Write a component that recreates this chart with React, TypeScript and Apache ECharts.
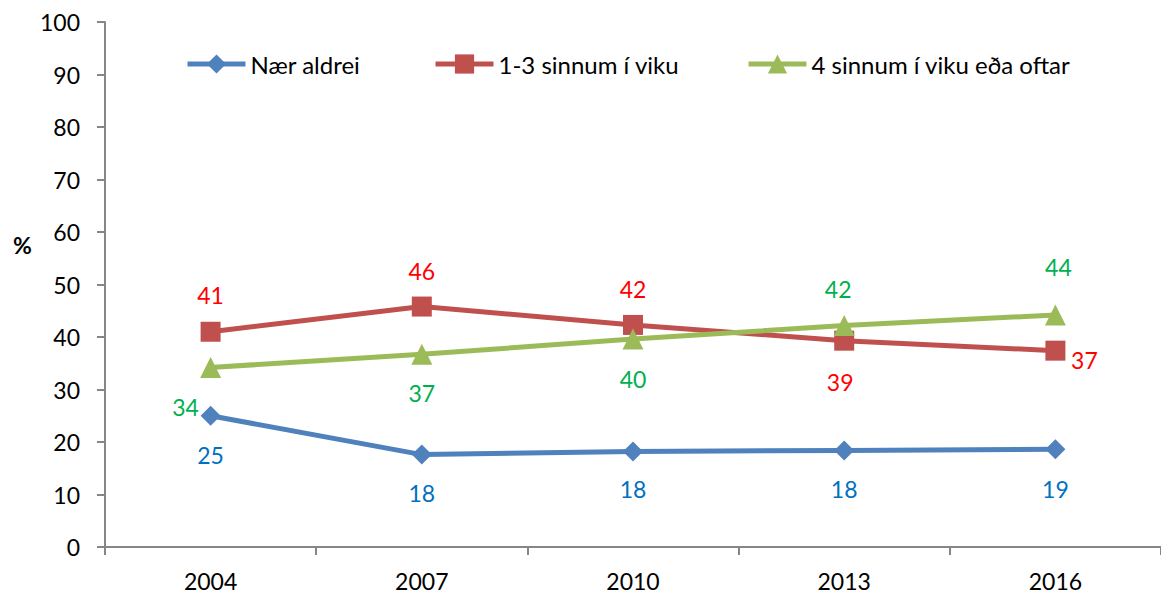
import React, { useEffect, useRef } from "react";
import * as echarts from "echarts";

const years = ["2004", "2007", "2010", "2013", "2016"];
const naerAldrei = [25.0, 17.6, 18.2, 18.4, 18.6];
const einTilThrju = [41.0, 45.8, 42.3, 39.3, 37.4];
const fjorumOftar = [34.2, 36.7, 39.6, 42.2, 44.2];
const seriesNames = ["Nær aldrei", "1-3 sinnum í viku", "4 sinnum í viku eða oftar"];

const FONT = "Lato, 'Noto Sans', sans-serif";
const FS = 23;

export default function App() {
  const ref = useRef<HTMLDivElement>(null);

  useEffect(() => {
    document.body.style.margin = "0";
    if (!ref.current) return;
    const chart = echarts.init(ref.current, undefined, { renderer: "svg" });

    const blueOffsets = [[0, 39], [0, 38], [0, 38], [0, 39], [0, 40]];
    const redOffsets = [[0, -37], [0, -36], [0, -36], [-4, 41], [29, 9]];
    const greenOffsets = [[-25, 40], [0, 39], [0, 40], [-6, -36], [3, -48]];

    const mk = (vals: number[], offs: number[][]) =>
      vals.map((v, i) => ({ value: v, label: { offset: offs[i] } }));

    const labelBase = (color: string) => ({
      show: true,
      position: "inside",
      color,
      fontSize: FS,
      fontFamily: FONT,
      formatter: (p: any) => String(Math.round(p.value)),
    });

    const legendBase = {
      top: 52,
      padding: 0,
      itemWidth: 58,
      itemHeight: 24,
      itemStyle: { borderWidth: 0 },
      lineStyle: { width: 5 },
      textStyle: { fontSize: 24, fontFamily: FONT, color: "#000", padding: [0, 0, 0, 0] },
      selectedMode: false,
    };

    chart.setOption({
      animation: false,
      grid: { left: 105, top: 22, width: 1058, height: 525, containLabel: false },
      legend: [
        { ...legendBase, left: 185, data: [seriesNames[0]] },
        { ...legendBase, left: 433, data: [seriesNames[1]] },
        { ...legendBase, left: 746, data: [seriesNames[2]] },
      ],
      graphic: [
        {
          type: "text",
          left: 13,
          top: 233,
          style: { text: "%", fontSize: FS, fontWeight: "bold", fontFamily: FONT, fill: "#000" },
        },
      ],
      xAxis: {
        type: "category",
        data: years,
        boundaryGap: true,
        axisLine: { lineStyle: { color: "#868686", width: 2 } },
        axisTick: { show: true, length: 8, lineStyle: { color: "#868686", width: 2 } },
        axisLabel: { margin: 22, fontSize: FS, fontFamily: FONT, color: "#000" },
      },
      yAxis: {
        type: "value",
        min: 0,
        max: 100,
        interval: 10,
        splitLine: { show: false },
        axisLine: { show: true, lineStyle: { color: "#868686", width: 2 } },
        axisTick: { show: true, length: 8, lineStyle: { color: "#868686", width: 2 } },
        axisLabel: { margin: 25, fontSize: FS, fontFamily: FONT, color: "#000" },
      },
      series: [
        {
          name: seriesNames[0],
          type: "line",
          data: mk(naerAldrei, blueOffsets),
          symbol: "diamond",
          symbolSize: 20,
          itemStyle: { color: "#4F81BD" },
          lineStyle: { color: "#4F81BD", width: 5 },
          label: labelBase("#0070C0"),
          z: 3,
        },
        {
          name: seriesNames[1],
          type: "line",
          data: mk(einTilThrju, redOffsets),
          symbol: "rect",
          symbolSize: 20,
          itemStyle: { color: "#C0504D" },
          lineStyle: { color: "#C0504D", width: 5 },
          label: labelBase("#FF0000"),
          z: 4,
        },
        {
          name: seriesNames[2],
          type: "line",
          data: mk(fjorumOftar, greenOffsets),
          symbol: "triangle",
          symbolSize: 21,
          itemStyle: { color: "#9BBB59" },
          lineStyle: { color: "#9BBB59", width: 5 },
          label: labelBase("#00B050"),
          z: 5,
        },
      ],
    });

    return () => chart.dispose();
  }, []);

  return <div ref={ref} style={{ width: 1161, height: 594 }} />;
}
